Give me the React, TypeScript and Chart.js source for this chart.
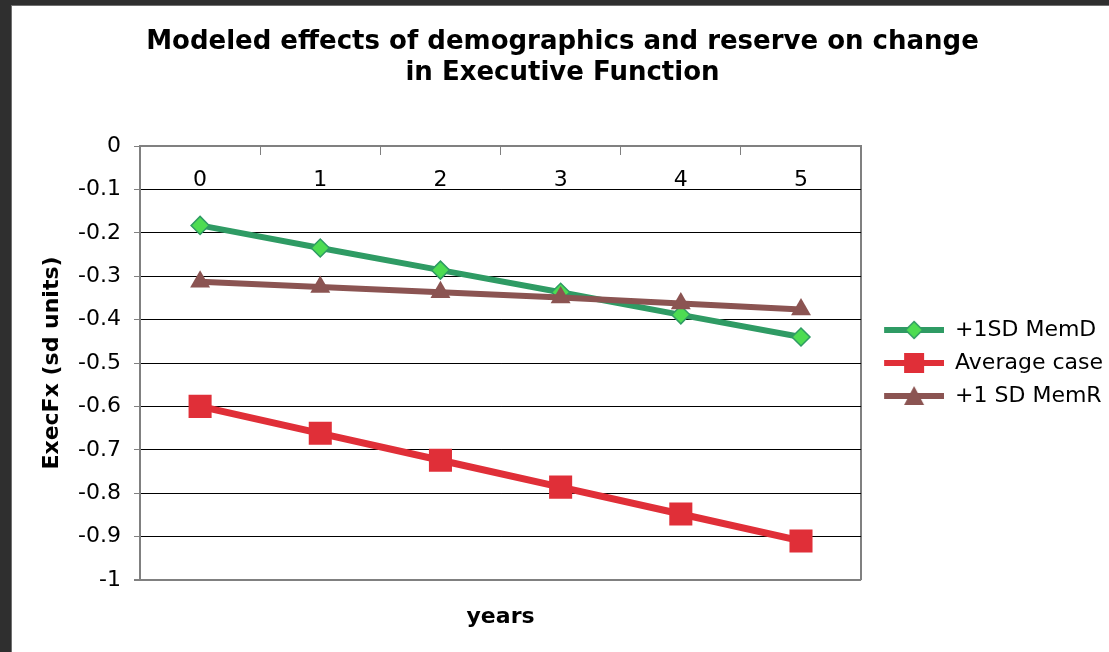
import { useEffect, useRef } from 'react';
import { Chart, registerables } from 'chart.js';

Chart.register(...registerables);

const FONT = "'DejaVu Sans', Verdana, sans-serif";

// Years since baseline (category axis)
const years = ['0', '1', '2', '3', '4', '5'];

// Modeled Executive Function (sd units) per scenario
const memDHigh = [-0.183, -0.235, -0.286, -0.337, -0.389, -0.44];
const averageCase = [-0.6, -0.662, -0.724, -0.786, -0.848, -0.91];
const memRHigh = [-0.313, -0.325, -0.337, -0.349, -0.363, -0.377];

const seriesNames = ['+1SD MemD', 'Average case', '+1 SD MemR'];

const yTickLabels = ['0', '-0.1', '-0.2', '-0.3', '-0.4', '-0.5', '-0.6', '-0.7', '-0.8', '-0.9', '-1'];

const titleLines = ['Modeled effects of demographics and reserve on change', 'in Executive Function'];
const xTitle = 'years';
const yTitle = 'ExecFx (sd units)';

const GREEN_LINE = '#2f9b64';
const GREEN_FILL = '#4ddc52';
const RED = '#e02f38';
const BROWN = '#8b5452';
const AXIS_GRAY = '#808080';

type Marker = 'diamond' | 'square' | 'triangle';

// Legend swatch: a short line with the series marker in its middle
function makeSwatch(line: string, fill: string, stroke: string | null, marker: Marker): HTMLCanvasElement {
  const c = document.createElement('canvas');
  c.width = 72;
  c.height = 24;
  const g = c.getContext('2d') as CanvasRenderingContext2D;
  g.strokeStyle = line;
  g.lineWidth = 6;
  g.beginPath();
  g.moveTo(12, 12);
  g.lineTo(72, 12);
  g.stroke();
  const cx = 42;
  const cy = 12;
  g.fillStyle = fill;
  g.beginPath();
  if (marker === 'diamond') {
    g.moveTo(cx, cy - 8.5);
    g.lineTo(cx + 8.5, cy);
    g.lineTo(cx, cy + 8.5);
    g.lineTo(cx - 8.5, cy);
  } else if (marker === 'square') {
    g.rect(cx - 10, cy - 10, 20, 20);
  } else {
    g.moveTo(cx, cy - 10);
    g.lineTo(cx + 10, cy + 9);
    g.lineTo(cx - 10, cy + 9);
  }
  g.closePath();
  g.fill();
  if (stroke) {
    g.strokeStyle = stroke;
    g.lineWidth = 1.5;
    g.stroke();
  }
  return c;
}

export default function App() {
  const canvasRef = useRef<HTMLCanvasElement>(null);

  useEffect(() => {
    const canvas = canvasRef.current;
    if (!canvas) return;

    const swatches = [
      makeSwatch(GREEN_LINE, GREEN_FILL, GREEN_LINE, 'diamond'),
      makeSwatch(RED, RED, null, 'square'),
      makeSwatch(BROWN, BROWN, null, 'triangle'),
    ];

    const defaultLabels = Chart.defaults.plugins.legend.labels.generateLabels;

    const chart = new Chart(canvas, {
      type: 'line',
      data: {
        labels: years,
        datasets: [
          {
            label: seriesNames[0],
            data: memDHigh,
            borderColor: GREEN_LINE,
            borderWidth: 6,
            backgroundColor: GREEN_FILL,
            pointStyle: 'rectRot',
            pointRadius: 9,
            pointBorderColor: GREEN_LINE,
            pointBorderWidth: 1.5,
            pointBackgroundColor: GREEN_FILL,
            tension: 0,
            order: 2,
          },
          {
            label: seriesNames[1],
            data: averageCase,
            borderColor: RED,
            borderWidth: 7,
            backgroundColor: RED,
            pointStyle: 'rect',
            pointRadius: 16.3,
            pointBorderWidth: 0,
            pointBackgroundColor: RED,
            tension: 0,
            order: 1,
          },
          {
            label: seriesNames[2],
            data: memRHigh,
            borderColor: BROWN,
            borderWidth: 6,
            backgroundColor: BROWN,
            pointStyle: 'triangle',
            pointRadius: 11.5,
            pointBorderWidth: 0,
            pointBackgroundColor: BROWN,
            tension: 0,
            order: 0,
          },
        ],
      },
      options: {
        animation: false,
        responsive: true,
        maintainAspectRatio: false,
        events: [],
        layout: { padding: { left: 0, right: -4, top: 0, bottom: 0 } },
        plugins: {
          title: {
            display: true,
            text: titleLines,
            color: '#000',
            font: { family: FONT, size: 26, weight: 'bold', lineHeight: 1.2 },
            padding: { top: 20.5, bottom: 57.1 },
          },
          legend: {
            position: 'right',
            align: 'center',
            fullSize: false,
            labels: {
              usePointStyle: true,
              pointStyleWidth: 72,
              boxHeight: 22,
              padding: 11,
              color: '#000',
              font: { family: FONT, size: 22 },
              sort: (a: any, b: any) => a.datasetIndex - b.datasetIndex,
              generateLabels: (c: any) =>
                defaultLabels(c).map((item: any) => ({
                  ...item,
                  pointStyle: swatches[item.datasetIndex],
                })),
            },
          },
          tooltip: { enabled: false },
        },
        scales: {
          x: {
            type: 'category',
            position: { y: 0 } as any,
            offset: true,
            grid: {
              offset: true,
              drawOnChartArea: true,
              drawTicks: true,
              tickLength: 8,
              tickColor: AXIS_GRAY,
              tickWidth: 1,
              color: (ctx: any) => (ctx.type !== 'tick' || ctx.index === 0 ? AXIS_GRAY : 'rgba(0,0,0,0)'),
              lineWidth: (ctx: any) => (ctx.type !== 'tick' || ctx.index === 0 ? 2 : 1),
            },
            border: { display: true, color: AXIS_GRAY, width: 2 },
            ticks: {
              color: '#000',
              font: { family: FONT, size: 22 },
              padding: 12.8,
              maxRotation: 0,
              autoSkip: false,
            },
          },
          // Bottom axis that only carries the "years" title, centred under the plot
          xTitleAxis: {
            type: 'category',
            axis: 'x',
            position: 'bottom',
            offset: true,
            grid: { display: false, drawTicks: false },
            border: { display: false },
            ticks: { display: false },
            title: {
              display: true,
              text: xTitle,
              color: '#000',
              font: { family: FONT, size: 22, weight: 'bold', lineHeight: 1.2 },
              padding: { top: 23.8, bottom: 21.8 },
            },
          } as any,
          y: {
            type: 'linear',
            position: 'left',
            min: -1,
            max: 0,
            afterFit: (scale: any) => {
              scale.width = 128;
            },
            title: {
              display: true,
              text: yTitle,
              color: '#000',
              font: { family: FONT, size: 22, weight: 'bold', lineHeight: 1.2 },
              padding: { top: 27, bottom: 0 },
            },
            grid: {
              drawTicks: true,
              tickLength: 6,
              tickColor: AXIS_GRAY,
              color: (ctx: any) => {
                const v = ctx.tick ? ctx.tick.value : 0;
                return v === -1 || v === 0 ? AXIS_GRAY : '#000';
              },
              lineWidth: (ctx: any) => {
                const v = ctx.tick ? ctx.tick.value : 0;
                return v === -1 ? 2 : 1;
              },
            },
            border: { display: true, color: AXIS_GRAY, width: 2 },
            ticks: {
              stepSize: 0.1,
              color: '#000',
              font: { family: FONT, size: 22 },
              padding: 13,
              callback: (value: any) => yTickLabels[Math.round(-Number(value) * 10)],
            },
          },
        },
      },
    });

    return () => chart.destroy();
  }, []);

  return (
    <div style={{ position: 'fixed', inset: 0, background: '#2f2f2f' }}>
      <div
        style={{
          position: 'absolute',
          left: 11,
          top: 5,
          right: 0,
          bottom: 0,
          background: '#fff',
          borderLeft: '1px solid #707070',
          borderTop: '1px solid #707070',
          boxSizing: 'border-box',
        }}
      >
        <div style={{ position: 'relative', width: '100%', height: '100%' }}>
          <canvas ref={canvasRef} />
        </div>
      </div>
    </div>
  );
}
